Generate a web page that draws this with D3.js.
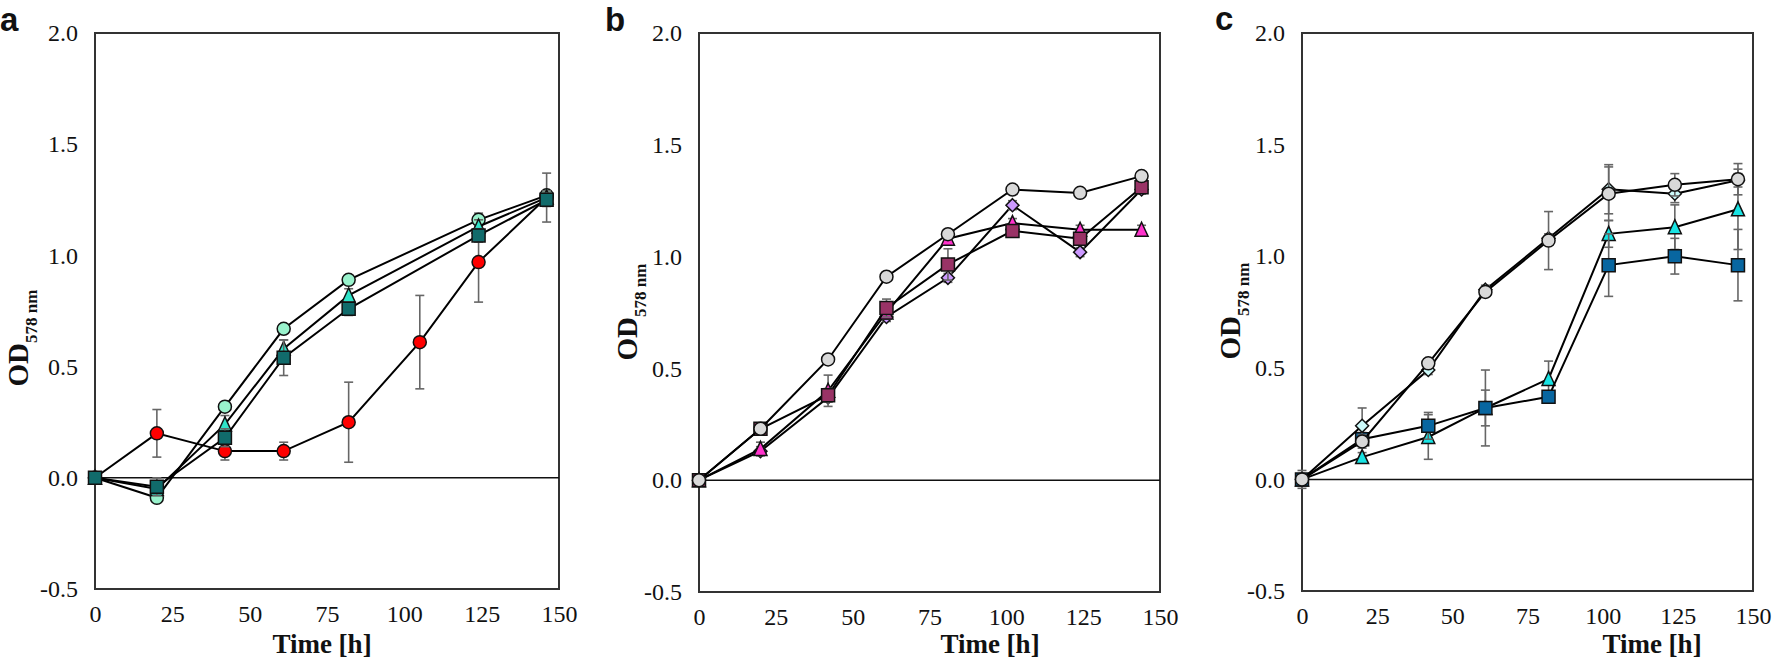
<!DOCTYPE html>
<html><head><meta charset="utf-8">
<script src="https://cdn.jsdelivr.net/npm/d3@7"></script>
<style>body{margin:0;background:#fff} svg{display:block}</style>
</head><body>
<svg id="chart" width="1772" height="666"></svg>
<script>
// ---------- data ----------
const yTicks = [-0.5, 0, 0.5, 1.0, 1.5, 2.0];
const xTicks = [0, 25, 50, 75, 100, 125, 150];
const xTitle = "Time [h]";
const panelLetters = ["a", "b", "c"];

// Panel a
const timesA = [0, 20, 42, 61, 82, 105, 124, 146];
const aRed = [0, 0.20, 0.12, 0.12, 0.25, 0.61, 0.97, 1.26];
const aRedErr = [0.01, 0.107, 0.04, 0.04, 0.18, 0.21, 0.18, 0.11];
const aCircle = [0, -0.09, 0.32, 0.67, 0.89, null, 1.16, 1.27];
const aCircleErr = [0, 0.01, 0.02, 0.02, 0.02, null, 0.03, 0.02];
const aTriangle = [0, -0.05, 0.24, 0.58, 0.82, null, 1.13, 1.26];
const aTriangleErr = [0, 0.02, 0.04, 0.04, 0.03, null, 0.03, 0.03];
const aSquare = [0, -0.04, 0.18, 0.54, 0.76, null, 1.09, 1.25];
const aSquareErr = [0, 0.04, 0.04, 0.08, 0.03, null, 0.03, 0.03];

// Panel b
const timesB = [0, 20, 42, 61, 81, 102, 124, 144];
const bDiamond = [0, 0.13, 0.37, 0.73, 0.905, 1.23, 1.02, 1.30];
const bDiamondErr = [0, 0.02, 0.02, 0.02, 0.02, 0.02, 0.02, 0.02];
const bTriangle = [0, 0.14, 0.40, 0.75, 1.08, 1.15, 1.12, 1.12];
const bTriangleErr = [0, 0.03, 0.07, 0.03, 0.02, 0.02, 0.02, 0.02];
const bSquare = [0, 0.23, 0.38, 0.77, 0.965, 1.115, 1.08, 1.31];
const bSquareErr = [0, 0.02, 0.03, 0.04, 0.07, 0.02, 0.02, 0.02];
const bCircle = [0, 0.23, 0.54, 0.91, 1.10, 1.30, 1.285, 1.36];
const bCircleErr = [0, 0.01, 0.01, 0.01, 0.01, 0.01, 0.01, 0.01];

// Panel c
const timesC = [0, 20, 42, 61, 82, 102, 124, 145];
const cTriangle = [0, 0.10, 0.19, 0.32, 0.45, 1.10, 1.13, 1.21];
const cTriangleErr = [0.02, 0.02, 0.10, 0.08, 0.08, 0.06, 0.10, 0.18];
const cSquare = [0, 0.18, 0.24, 0.32, 0.37, 0.96, 1.00, 0.96];
const cSquareErr = [0.04, 0.03, 0.06, 0.17, 0.02, 0.14, 0.08, 0.16];
const cDiamond = [0, 0.24, 0.49, 0.85, 1.08, 1.30, 1.28, 1.34];
const cDiamondErr = [0.02, 0.08, 0.02, 0.02, 0.02, 0.11, 0.04, 0.03];
const cCircle = [0, 0.17, 0.52, 0.84, 1.07, 1.28, 1.32, 1.345];
const cCircleErr = [0.02, 0.03, 0.02, 0.02, 0.13, 0.12, 0.05, 0.07];

// ---------- styles / layout ----------
const panels = [
  { letter: panelLetters[0], times: timesA,
    box: {left: 95, right: 559, top: 33, bottom: 589},
    letterPos: [0, 31], yTitlePos: [28, 338], xTitleX: 322,
    series: [
      {v: aRed, e: aRedErr, shape: "circle", fill: "#ff0000"},
      {v: aCircle, e: aCircleErr, shape: "circle", fill: "#99f2cc"},
      {v: aTriangle, e: aTriangleErr, shape: "triangle", fill: "#2fe3c8"},
      {v: aSquare, e: aSquareErr, shape: "square", fill: "#116b6b"}
    ]},
  { letter: panelLetters[1], times: timesB,
    box: {left: 699, right: 1160, top: 33, bottom: 592},
    letterPos: [605, 31], yTitlePos: [637, 312], xTitleX: 990,
    series: [
      {v: bDiamond, e: bDiamondErr, shape: "diamond", fill: "#cc99ff"},
      {v: bTriangle, e: bTriangleErr, shape: "triangle", fill: "#ff33cc"},
      {v: bSquare, e: bSquareErr, shape: "square", fill: "#993366"},
      {v: bCircle, e: bCircleErr, shape: "circle", fill: "#d9d9d9"}
    ]},
  { letter: panelLetters[2], times: timesC,
    box: {left: 1302, right: 1753, top: 33, bottom: 591},
    letterPos: [1215, 30], yTitlePos: [1240, 311], xTitleX: 1652,
    series: [
      {v: cTriangle, e: cTriangleErr, shape: "triangle", fill: "#19e3e3"},
      {v: cSquare, e: cSquareErr, shape: "square", fill: "#0866a0"},
      {v: cDiamond, e: cDiamondErr, shape: "diamond", fill: "#ccfafa"},
      {v: cCircle, e: cCircleErr, shape: "circle", fill: "#d9d9d9"}
    ]}
];

const svg = d3.select("#chart");
const serif = "'Liberation Serif', 'Times New Roman', serif";
const sans = "'Liberation Sans', Arial, sans-serif";

function markerPath(shape) {
  if (shape === "triangle") { const s = 13; return `M0,${-s/2 - 1}L${s/2},${s/2}L${-s/2},${s/2}Z`; }
  if (shape === "diamond") { const s = 13; return `M0,${-s/2}L${s/2},0L0,${s/2}L${-s/2},0Z`; }
  if (shape === "square") { const s = 13; return `M${-s/2},${-s/2}h${s}v${s}h${-s}Z`; }
  return null;
}

panels.forEach(p => {
  const b = p.box;
  const x = d3.scaleLinear().domain([0, 150]).range([b.left, b.right]);
  const y = d3.scaleLinear().domain([-0.5, 2.0]).range([b.bottom, b.top]);
  const g = svg.append("g");

  // frame
  g.append("rect").attr("x", b.left).attr("y", b.top)
    .attr("width", b.right - b.left).attr("height", b.bottom - b.top)
    .attr("fill", "none").attr("stroke", "#333").attr("stroke-width", 2);
  // zero line
  g.append("line").attr("x1", b.left).attr("x2", b.right)
    .attr("y1", y(0)).attr("y2", y(0))
    .attr("stroke", "#111").attr("stroke-width", 1.5);

  // axes
  const ya = g.append("g").attr("transform", `translate(${b.left},0)`)
    .call(d3.axisLeft(y).tickValues(yTicks).tickSize(0).tickPadding(17)
      .tickFormat(d => d.toFixed(1)));
  ya.select(".domain").remove();
  ya.attr("font-family", null).attr("font-size", null);
  ya.selectAll("text").style("font-family", serif).style("font-size", "24px").attr("fill", "#111");

  const xa = g.append("g").attr("transform", `translate(0,${b.bottom})`)
    .call(d3.axisBottom(x).tickValues(xTicks).tickSize(0).tickPadding(16)
      .tickFormat(d3.format("d")));
  xa.select(".domain").remove();
  xa.attr("font-family", null).attr("font-size", null);
  xa.selectAll("text").style("font-family", serif).style("font-size", "24px").attr("fill", "#111");

  // titles
  g.append("text").attr("x", p.xTitleX).attr("y", 653)
    .attr("text-anchor", "middle").style("font-family", serif)
    .attr("font-weight", "bold").style("font-size", "27px").attr("fill", "#111")
    .text(xTitle);

  const yt = g.append("text")
    .attr("transform", `translate(${p.yTitlePos[0]},${p.yTitlePos[1]}) rotate(-90)`)
    .attr("text-anchor", "middle").style("font-family", serif)
    .attr("font-weight", "bold").attr("fill", "#111");
  yt.append("tspan").style("font-size", "29px").text("OD");
  yt.append("tspan").style("font-size", "17px").attr("dy", 9).text("578 nm");

  g.append("text").attr("x", p.letterPos[0]).attr("y", p.letterPos[1])
    .style("font-family", sans).attr("font-weight", "bold").style("font-size", "33px")
    .attr("fill", "#111").text(p.letter);

  const line = d3.line().x(d => x(d.t)).y(d => y(d.v));

  p.series.forEach(s => {
    const pts = p.times.map((t, i) => ({t, v: s.v[i], e: s.e[i]})).filter(d => d.v != null);
    const sg = g.append("g");
    sg.append("path").datum(pts).attr("d", line)
      .attr("fill", "none").attr("stroke", "#000").attr("stroke-width", 2);
    // error bars
    const eb = sg.selectAll(".eb").data(pts.filter(d => d.e > 0.012)).join("g");
    eb.append("line").attr("x1", d => x(d.t)).attr("x2", d => x(d.t))
      .attr("y1", d => y(d.v - d.e)).attr("y2", d => y(d.v + d.e))
      .attr("stroke", "#666").attr("stroke-width", 1.6);
    [-1, 1].forEach(sgn => {
      eb.append("line").attr("x1", d => x(d.t) - 4.5).attr("x2", d => x(d.t) + 4.5)
        .attr("y1", d => y(d.v + sgn * d.e)).attr("y2", d => y(d.v + sgn * d.e))
        .attr("stroke", "#666").attr("stroke-width", 1.6);
    });
    // markers
    const mk = sg.selectAll(".mk").data(pts).join(s.shape === "circle" ? "circle" : "path");
    if (s.shape === "circle") {
      mk.attr("cx", d => x(d.t)).attr("cy", d => y(d.v)).attr("r", 6.5);
    } else {
      mk.attr("transform", d => `translate(${x(d.t)},${y(d.v)})`).attr("d", markerPath(s.shape));
    }
    mk.attr("fill", s.fill).attr("stroke", "#111").attr("stroke-width", 1.5);
  });
});
</script>
</body></html>
